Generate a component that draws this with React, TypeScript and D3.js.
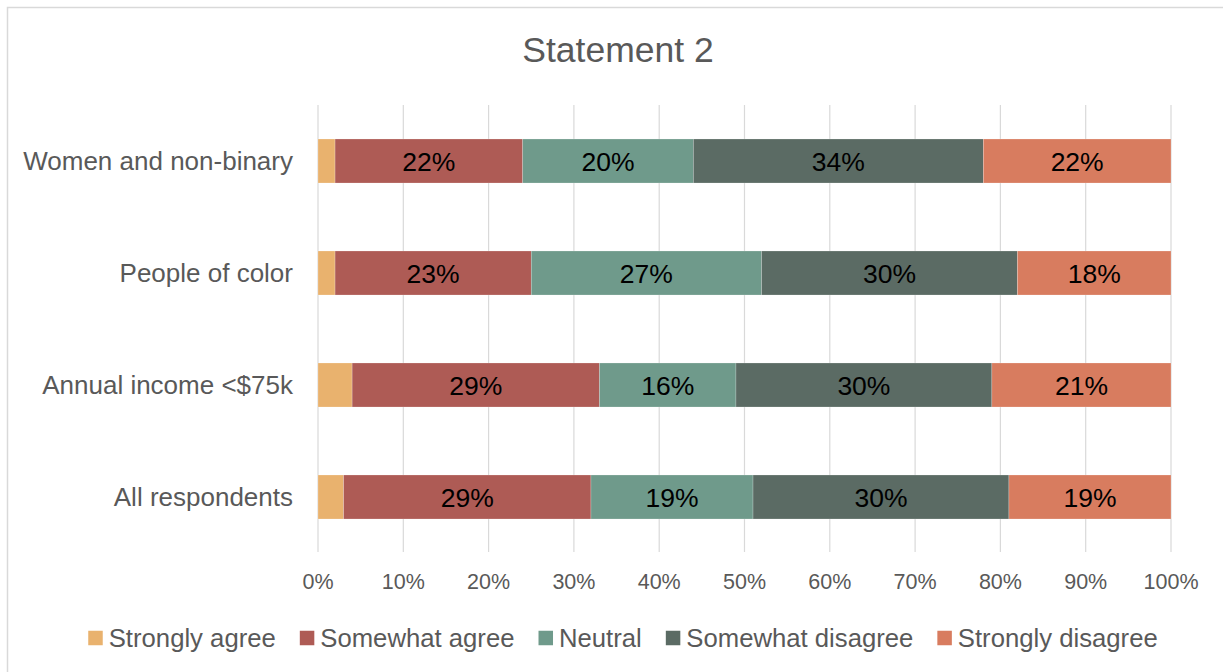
import React from "react";
import * as d3 from "d3";

const categories = ["Women and non-binary", "People of color", "Annual income <$75k", "All respondents"];
const seriesNames = ["Strongly agree", "Somewhat agree", "Neutral", "Somewhat disagree", "Strongly disagree"];
const stronglyAgree = [2, 2, 4, 3];
const somewhatAgree = [22, 23, 29, 29];
const neutral = [20, 27, 16, 19];
const somewhatDisagree = [34, 30, 30, 30];
const stronglyDisagree = [22, 18, 21, 19];
const seriesColors = ["#E9B26E", "#AE5B55", "#6F9A8B", "#5B6B64", "#D87C5F"];
const xTicks = [0, 10, 20, 30, 40, 50, 60, 70, 80, 90, 100];
const title = "Statement 2";

const W = 1223;
const H = 672;
const FONT = "'Liberation Sans', Arial, sans-serif";
const GREY = "#595959";

function measure(text: string, font: string): number {
  const c = document.createElement("canvas");
  const ctx = c.getContext("2d")!;
  ctx.font = font;
  return ctx.measureText(text).width;
}

export default function App() {
  const seriesValues = [stronglyAgree, somewhatAgree, neutral, somewhatDisagree, stronglyDisagree];
  const rows = categories.map((c, i) => {
    const r: any = { category: c };
    seriesNames.forEach((s, j) => (r[s] = seriesValues[j][i]));
    return r;
  });
  const stacked = d3.stack<any>().keys(seriesNames)(rows);

  const x = d3.scaleLinear().domain([0, 100]).range([318, 1171]);
  const y = d3
    .scaleBand<string>()
    .domain(categories)
    .range([105, 553])
    .paddingInner(0.607)
    .paddingOuter(0.3035);

  const legendSize = 25.7;
  const legendFont = `${legendSize}px ${FONT}`;
  const sq = 14.5;
  const gapSqText = 6;
  const gapItems = 24;
  const widths = seriesNames.map((s) => measure(s, legendFont));
  const total = widths.reduce((a, w) => a + sq + gapSqText + w, 0) + gapItems * (seriesNames.length - 1);
  let lx = 623 - total / 2;
  const legendItems = seriesNames.map((s, i) => {
    const item = { name: s, x: lx, color: seriesColors[i] };
    lx += sq + gapSqText + widths[i] + gapItems;
    return item;
  });
  const legendY = 638;

  return (
    <svg width={W} height={H} style={{ position: "absolute", left: 0, top: 0, background: "#fff" }}>
      <rect x={7.5} y={7.5} width={W + 20} height={H + 20} fill="#fff" stroke="#d9d9d9" strokeWidth={1.5} />
      <text x={618} y={62} textAnchor="middle" fontFamily={FONT} fontSize={35.5} fill={GREY}>
        {title}
      </text>
      {xTicks.map((t) => (
        <g key={t}>
          <line x1={x(t)} x2={x(t)} y1={105} y2={552} stroke="#d9d9d9" strokeWidth={1.2} />
          <text x={x(t)} y={589} textAnchor="middle" fontFamily={FONT} fontSize={21.5} fill={GREY}>
            {t}%
          </text>
        </g>
      ))}
      {stacked.map((layer, j) => (
        <g key={layer.key}>
          {layer.map((d, i) => (
            <rect
              key={i}
              x={x(d[0])}
              y={y(categories[i])!}
              width={x(d[1]) - x(d[0])}
              height={y.bandwidth()}
              fill={seriesColors[j]}
              stroke="#ffffff"
              strokeOpacity={0.35}
              strokeWidth={0.6}
            />
          ))}
          {j > 0 &&
            layer.map((d, i) => (
              <text
                key={"t" + i}
                x={(x(d[0]) + x(d[1])) / 2}
                y={y(categories[i])! + y.bandwidth() / 2 + 9.5}
                textAnchor="middle"
                fontFamily={FONT}
                fontSize={26.5}
                fill="#000"
              >
                {d[1] - d[0]}%
              </text>
            ))}
        </g>
      ))}
      {categories.map((c) => (
        <text
          key={c}
          x={293}
          y={y(c)! + y.bandwidth() / 2 + 9}
          textAnchor="end"
          fontFamily={FONT}
          fontSize={26}
          fill={GREY}
        >
          {c}
        </text>
      ))}
      {legendItems.map((it) => (
        <g key={it.name}>
          <rect x={it.x} y={legendY - sq / 2} width={sq} height={sq} fill={it.color} />
          <text x={it.x + sq + gapSqText} y={legendY + 9} fontFamily={FONT} fontSize={legendSize} fill={GREY}>
            {it.name}
          </text>
        </g>
      ))}
    </svg>
  );
}
